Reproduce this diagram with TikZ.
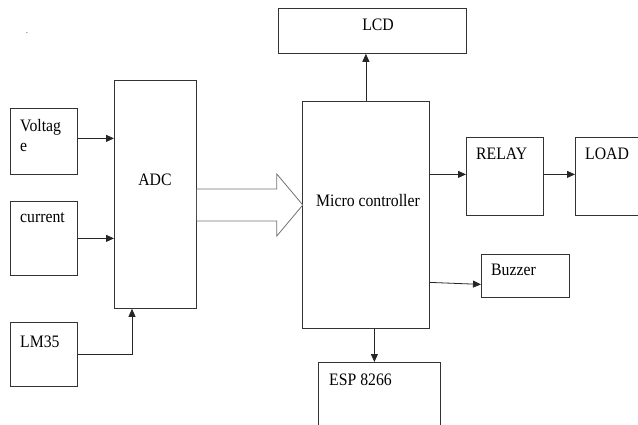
\documentclass[tikz,border=0pt]{standalone}
\usepackage{fontspec}
\setmainfont{Liberation Serif}[FakeStretch=0.9]
\usetikzlibrary{positioning,calc,arrows.meta}

\begin{document}
\begin{tikzpicture}[
  x=1pt, y=-1pt,
  every node/.style={inner sep=0pt},
  blockbox/.style={
    rectangle, draw=black!80, line width=0.8pt,
    anchor=north west,
  },
  lbl/.style={font=\fontsize{17.5}{20}\selectfont, anchor=base west},
  clbl/.style={font=\fontsize{17.5}{20}\selectfont, anchor=base},
  arr/.style={draw=black!85, line width=0.8pt, -{Triangle[length=8pt,width=7pt]}},
  hollow/.style={draw=black!55, line width=0.8pt, fill=white},
]
\useasboundingbox (0,0) rectangle (638,425);

% ----- sensor blocks on the left -----
\node[blockbox, minimum width=67pt, minimum height=66pt] (volt) at (10,108) {};
\node[blockbox, minimum width=67pt, minimum height=74pt] (curr) at (10,201) {};
\node[blockbox, minimum width=67pt, minimum height=64pt] (lm) at (10,322) {};

\node[lbl] (voltA) at ($(volt.north west)+(10,24)$) {Voltag};
\node[lbl] (voltB) at ($(volt.north west)+(10,44)$) {e};
\node[lbl] (currT) at ($(curr.north west)+(10,22)$) {current};
\node[lbl] (lmT) at ($(lm.north west)+(10,25)$) {LM35};

% ----- ADC and micro controller -----
\node[blockbox, minimum width=82pt, minimum height=228pt] (adc) at (114,80) {};
\node[clbl] (adcT) at (155,186) {ADC};

\node[blockbox, minimum width=127pt, minimum height=227pt] (mc) at (302,101) {};
\node[clbl] (mcT) at (368,207) {Micro controller};

% ----- output blocks -----
\node[blockbox, minimum width=188pt, minimum height=45pt] (lcd) at (278,8) {};
\node[clbl] (lcdT) at (378,31) {LCD};

\node[blockbox, minimum width=77pt, minimum height=78pt] (relay) at (466,137) {};
\node[lbl] (relayT) at ($(relay.north west)+(10,23)$) {RELAY};

\node[blockbox, minimum width=70pt, minimum height=78pt] (load) at (575,137) {};
\node[lbl] (loadT) at ($(load.north west)+(10,23)$) {LOAD};

\node[blockbox, minimum width=88pt, minimum height=43pt] (buzz) at (481,254) {};
\node[lbl] (buzzT) at ($(buzz.north west)+(10,22)$) {Buzzer};

\node[blockbox, minimum width=122pt, minimum height=75pt] (esp) at (318,362) {};
\node[lbl] (espT) at ($(esp.north west)+(11,23)$) {ESP 8266};

\node[font=\fontsize{8}{9}\selectfont, anchor=base] (dot) at (27,34) {.};

% ----- connectors -----
\draw[arr] ([yshift=3pt]volt.east) -- ([yshift=3pt]volt.east -| adc.west);
\draw[arr] (curr.east) -- (curr.east -| adc.west);
\draw[arr] (lm.east) -| ([xshift=18pt]adc.south west);

% hollow bus arrow ADC -> micro controller
\coordinate (busL) at (adc.east |- 0,205);
\draw[hollow] ($(busL)+(0,-16)$) -- ++(80,0) -- ++(0,-15) -- ($(busL)+(106,0)$)
  -- ($(busL)+(80,31)$) -- ++(0,-15) -- ++(-80,0);

\draw[arr] (mc.north) -- (mc.north |- lcd.south);
\draw[arr] ([yshift=2pt]relay.west -| mc.east) -- ([yshift=2pt]relay.west);
\draw[arr] ([yshift=2pt]relay.east) -- ([yshift=2pt]relay.east -| load.west);
\draw[arr] ([yshift=-6.5pt]mc.east |- buzz.west) -- ([yshift=-8.5pt]buzz.west);
\draw[arr] ([xshift=8.5pt]mc.south) -- ([xshift=8.5pt]mc.south |- esp.north);

\end{tikzpicture}
\end{document}
